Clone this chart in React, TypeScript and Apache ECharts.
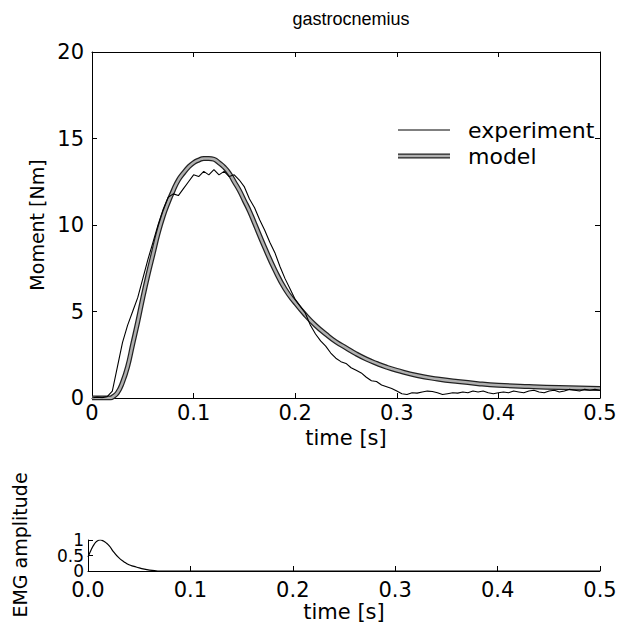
import React, { useEffect, useRef } from "react";
import * as echarts from "echarts";

// Experiment: sampled every 5 ms from 0 to 0.5 s
const expStep = 0.005;
const expMoment = [
  0, 0.05, 0.02, 0.08, 0.4, 1.8, 3.2, 4.2, 5.0, 5.8,
  6.9, 8.0, 9.0, 10.0, 10.9, 11.6, 11.8, 11.7, 12.1, 12.5,
  12.9, 12.8, 13.1, 12.9, 13.2, 12.9, 13.1, 12.8, 12.9, 12.6,
  12.2, 11.5, 11.0, 10.3, 9.7, 9.0, 8.4, 7.6, 6.9, 6.3,
  5.7, 5.3, 4.9, 4.2, 3.7, 3.3, 3.0, 2.6, 2.3, 2.1,
  2.0, 1.75, 1.6, 1.45, 1.2, 1.0, 0.95, 0.75, 0.65, 0.55,
  0.4, 0.25, 0.2, 0.3, 0.28, 0.35, 0.4, 0.38, 0.3, 0.2,
  0.25, 0.3, 0.28, 0.35, 0.3, 0.4, 0.35, 0.4, 0.3, 0.25,
  0.3, 0.35, 0.3, 0.4, 0.35, 0.3, 0.4, 0.45, 0.35, 0.3,
  0.4, 0.45, 0.35, 0.4, 0.5, 0.45, 0.4, 0.5, 0.45, 0.5,
  0.45,
];

const modelTime = [
  0, 0.01, 0.018, 0.02, 0.025, 0.03, 0.035, 0.04, 0.045, 0.05, 0.055, 0.06, 0.065,
  0.07, 0.075, 0.08, 0.085, 0.09, 0.095, 0.1, 0.105, 0.11, 0.115, 0.12,
  0.125, 0.13, 0.135, 0.14, 0.145, 0.15, 0.155, 0.16, 0.17, 0.18, 0.19,
  0.2, 0.21, 0.22, 0.23, 0.24, 0.25, 0.26, 0.27, 0.28, 0.29, 0.3, 0.32,
  0.34, 0.36, 0.38, 0.4, 0.43, 0.46, 0.5,
];
const modelMoment = [
  0, 0, 0, 0.05, 0.3, 0.9, 1.8, 3.1, 4.4, 5.8, 7.1, 8.3, 9.5,
  10.5, 11.3, 12.0, 12.6, 13.0, 13.35, 13.6, 13.75, 13.85, 13.85, 13.8,
  13.6, 13.35, 13.0, 12.5, 12.0, 11.4, 10.8, 10.1, 8.7, 7.4, 6.3,
  5.5, 4.8, 4.2, 3.7, 3.25, 2.9, 2.55, 2.25, 2.0, 1.78, 1.6, 1.3,
  1.1, 0.95, 0.83, 0.74, 0.66, 0.6, 0.55,
];

const emgTime = [
  0, 0.003, 0.006, 0.009, 0.012, 0.015, 0.018, 0.021, 0.025, 0.03, 0.035,
  0.04, 0.045, 0.05, 0.055, 0.06, 0.065, 0.07, 0.1, 0.2, 0.3, 0.4, 0.5,
];
const emgAmp = [
  0.45, 0.68, 0.86, 0.97, 1.0, 0.97, 0.9, 0.8, 0.62, 0.43, 0.3,
  0.2, 0.15, 0.1, 0.06, 0.03, 0.01, 0, 0, 0, 0, 0, 0,
];
const emgEndLabels = [0, 1];
const emgMidLabels = [0.5];

const FONT = "DejaVu Sans, Verdana, sans-serif";
const TITLE_FONT = "Liberation Sans, Arial, Helvetica, sans-serif";

export default function App() {
  const ref = useRef<HTMLDivElement>(null);
  useEffect(() => {
    if (!ref.current) return;
    const chart = echarts.init(ref.current, null, { renderer: "svg" });
    const expData = expMoment.map((v, i) => [+(i * expStep).toFixed(3), v]);
    const modelData = modelTime.map((t, i) => [t, modelMoment[i]]);
    const emgData = emgTime.map((t, i) => [t, emgAmp[i]]);
    const lbl = { color: "#000", fontSize: 21, fontFamily: FONT };
    const nameV = { color: "#000", fontSize: 19, fontFamily: FONT };
    const axLine = { show: true, onZero: false, lineStyle: { color: "#000", width: 1 } };
    const tick = { show: true, inside: true, length: 5, lineStyle: { color: "#000" } };
    const lblOpts = { hideOverlap: false, showMinLabel: true, showMaxLabel: true };
    const emgLbl = { ...lbl, fontSize: 17, lineHeight: 13, margin: 4 };
    chart.setOption({
      animation: false,
      backgroundColor: "#fff",
      title: {
        text: "gastrocnemius",
        left: 346,
        top: 5,
        textAlign: "center",
        textStyle: { fontSize: 18, fontWeight: "normal", color: "#000", fontFamily: TITLE_FONT },
      },
      grid: [
        { left: 92, top: 52, width: 508, height: 346, outerBoundsMode: "none", containLabel: false },
        { left: 88, top: 540, width: 512, height: 31, outerBoundsMode: "none", containLabel: false },
      ],
      xAxis: [
        {
          type: "value", gridIndex: 0, min: 0, max: 0.5, interval: 0.1,
          position: "bottom",
          axisLine: axLine, axisTick: tick, splitLine: { show: false },
          axisLabel: { ...lbl, ...lblOpts, margin: 4, formatter: (v: number) => String(+v.toFixed(1)) },
          name: "time [s]", nameLocation: "middle", nameGap: 28,
          nameTextStyle: lbl,
        },
        {
          type: "value", gridIndex: 0, min: 0, max: 0.5, interval: 0.1,
          position: "top",
          axisLine: axLine, axisTick: tick, splitLine: { show: false },
          axisLabel: { show: false },
        },
        {
          type: "value", gridIndex: 1, min: 0, max: 0.5, interval: 0.1,
          position: "bottom",
          axisLine: axLine, axisTick: tick, splitLine: { show: false },
          axisLabel: { ...lbl, ...lblOpts, margin: 8, formatter: (v: number) => v.toFixed(1) },
          name: "time [s]", nameLocation: "middle", nameGap: 30,
          nameTextStyle: lbl,
        },
      ],
      yAxis: [
        {
          type: "value", gridIndex: 0, min: 0, max: 20, interval: 5,
          position: "left",
          axisLine: axLine, axisTick: tick, splitLine: { show: false },
          axisLabel: { ...lbl, ...lblOpts, margin: 8 },
          name: "Moment [Nm]", nameLocation: "middle", nameGap: 40,
          nameTextStyle: nameV,
        },
        {
          type: "value", gridIndex: 0, min: 0, max: 20, interval: 5,
          position: "right",
          axisLine: axLine, axisTick: tick, splitLine: { show: false },
          axisLabel: { show: false },
        },
        {
          type: "value", gridIndex: 1, min: 0, max: 1, interval: 0.5,
          position: "left",
          axisLine: axLine, axisTick: tick, splitLine: { show: false },
          axisLabel: {
            ...emgLbl, ...lblOpts,
            formatter: (v: number) => (emgEndLabels.includes(v) ? String(v) : ""),
          },
        },
        {
          type: "value", gridIndex: 1, min: 0, max: 1, interval: 0.5,
          position: "left",
          axisLine: { show: false }, axisTick: { show: false }, splitLine: { show: false },
          axisLabel: {
            ...emgLbl, hideOverlap: false,
            formatter: (v: number) => (emgMidLabels.includes(v) ? String(v) : ""),
          },
        },
      ],
      series: [
        {
          type: "line", xAxisIndex: 0, yAxisIndex: 0, data: modelData,
          showSymbol: false, smooth: true, lineStyle: { color: "#222", width: 5 },
        },
        {
          type: "line", xAxisIndex: 0, yAxisIndex: 0, data: modelData,
          showSymbol: false, smooth: true, lineStyle: { color: "#b0b0b0", width: 2.5 },
        },
        {
          type: "line", xAxisIndex: 0, yAxisIndex: 0, data: expData,
          showSymbol: false, lineStyle: { color: "#000", width: 1.1 },
        },
        {
          type: "line", xAxisIndex: 2, yAxisIndex: 2, data: emgData,
          showSymbol: false, smooth: true, lineStyle: { color: "#000", width: 1.2 },
        },
      ],
      graphic: [
        { type: "line", shape: { x1: 398, y1: 130, x2: 450, y2: 130 }, style: { stroke: "#000", lineWidth: 1 } },
        { type: "text", x: 468, y: 130, style: { text: "experiment", fontSize: 22, fontFamily: FONT, fill: "#000", verticalAlign: "middle" } },
        { type: "line", shape: { x1: 398, y1: 156, x2: 450, y2: 156 }, style: { stroke: "#222", lineWidth: 5 } },
        { type: "line", shape: { x1: 398, y1: 156, x2: 450, y2: 156 }, style: { stroke: "#b0b0b0", lineWidth: 2.5 } },
        { type: "text", x: 468, y: 156, style: { text: "model", fontSize: 22, fontFamily: FONT, fill: "#000", verticalAlign: "middle" } },
        {
          type: "text", x: 20, y: 545, rotation: Math.PI / 2,
          style: { text: "EMG amplitude", fontSize: 19, fontFamily: FONT, fill: "#000", align: "center", verticalAlign: "middle" },
        },
      ],
    });
    return () => chart.dispose();
  }, []);
  return (
    <div
      ref={ref}
      style={{ position: "absolute", left: 0, top: 0, width: 626, height: 626 }}
    />
  );
}
